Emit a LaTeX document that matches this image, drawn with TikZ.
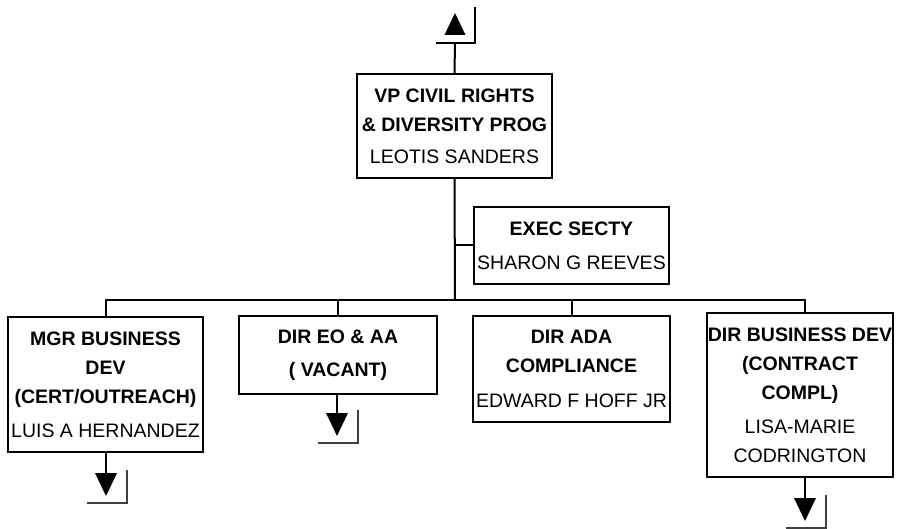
\documentclass[tikz,border=0pt]{standalone}
\usepackage{fontspec}
\setmainfont{Liberation Sans}
\usetikzlibrary{positioning,calc}

\begin{document}
\begin{tikzpicture}[x=1pt,y=-1pt,font=\fontsize{19.5}{29}\selectfont,line width=2pt,
  post/.style={draw,line width=2pt,inner sep=0pt,align=center}]
  \useasboundingbox (0,0) rectangle (897,529);
  \node[post,minimum width=195pt,minimum height=104pt] (vp) at (454.5,126) {\textbf{VP CIVIL RIGHTS}\\\textbf{\& DIVERSITY PROG}\\[3pt]LEOTIS SANDERS};
  \node[post,minimum width=195pt,minimum height=77pt] (ex) at (571.5,245.5) {\textbf{EXEC SECTY}\\[5pt]SHARON G REEVES};
  \node[post,minimum width=195pt,minimum height=135pt] (b1) at (105.5,384.5) {\textbf{MGR BUSINESS}\\\textbf{DEV}\\\textbf{(CERT/OUTREACH)}\\[5pt]LUIS A HERNANDEZ};
  \node[post,minimum width=198pt,minimum height=78pt] (b2) at (338,355) {\textbf{DIR EO \& AA}\\[4pt]\textbf{( VACANT)}};
  \node[post,minimum width=197pt,minimum height=106pt] (b3) at (571.5,369) {\textbf{DIR ADA}\\\textbf{COMPLIANCE}\\[6pt]EDWARD F HOFF JR};
  \node[post,minimum width=186pt,minimum height=164pt] (b4) at (800,395) {\textbf{DIR BUSINESS DEV}\\\textbf{(CONTRACT}\\\textbf{COMPL)}\\[5pt]LISA-MARIE\\CODRINGTON};

  % tree lines
  \coordinate (bus) at (455,300);
  \draw (vp.south) -- (bus);
  \draw (vp.south |- ex.west) -- (ex.west);
  \draw (b1.north) |- (bus) -| ([xshift=5pt]b4.north);
  \draw (b2.north) -- (b2.north |- bus);
  \draw (b3.north) -- (b3.north |- bus);

  % off page marks
  \coordinate (up) at (455,43);
  \draw (vp.north) -- (up);
  \fill (444.5,35) -- (455,13) -- (465.5,35) -- cycle;
  \draw (436,43) -- (475,43) -- (475,7);
  \foreach \c/\x/\y in {b1/106/473,b2/337/413,b4/805/498} {
    \coordinate (m\c) at (\x,\y);
    \draw (\c.south -| m\c) -- (m\c);
    \fill ($(m\c)+(-11,0)$) -- ($(m\c)+(11,0)$) -- ($(m\c)+(0,23)$) -- cycle;
    \draw[black!75,line width=1.6pt] ($(m\c)+(-19,30)$) -| ($(m\c)+(21,-3)$);
  }
\end{tikzpicture}
\end{document}
